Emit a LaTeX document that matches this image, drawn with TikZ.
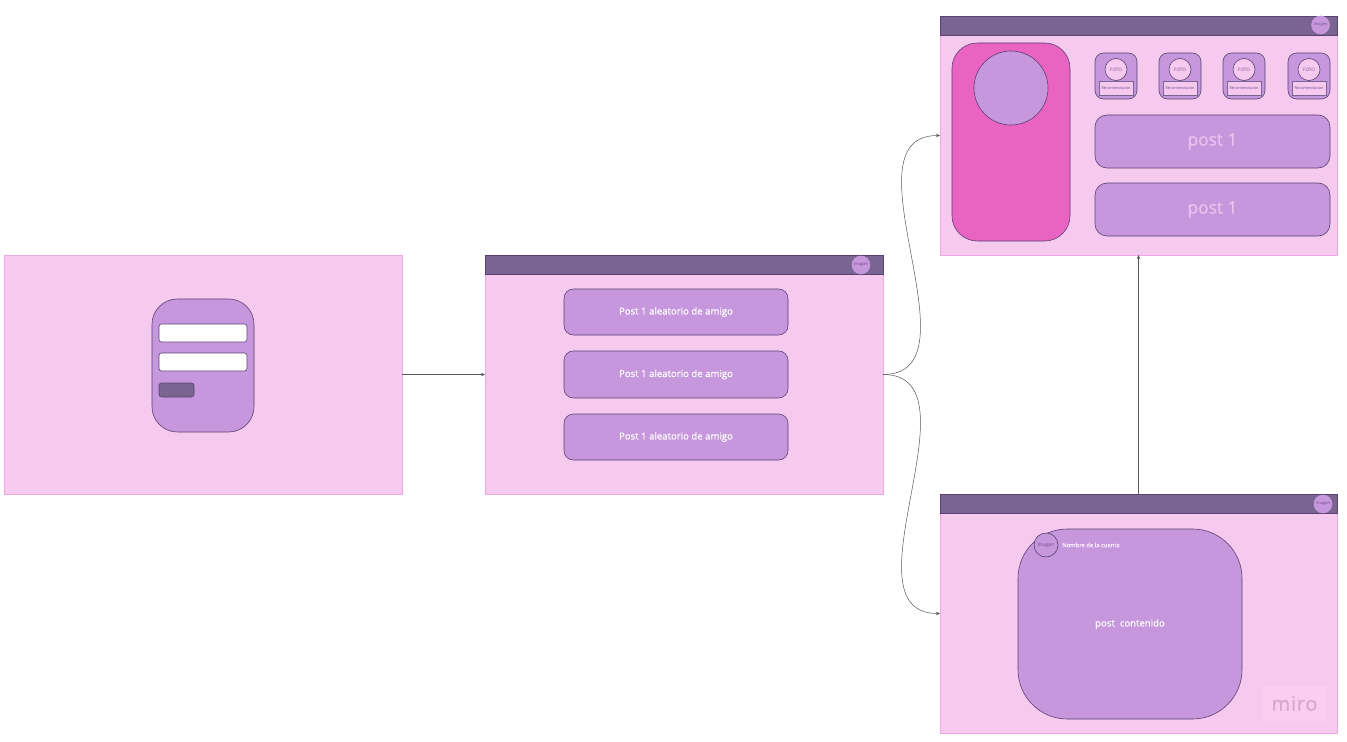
\documentclass[tikz,border=0pt]{standalone}
\usepackage{fontspec}
\setmainfont{Open Sans}
\newfontfamily\semi[FakeBold=0.35]{Open Sans}
\newfontfamily\semiheavy[FakeBold=0.8]{Open Sans}
\usetikzlibrary{arrows.meta}
\definecolor{framefill}{HTML}{F6C9EE}
\definecolor{frameline}{HTML}{F0A6E2}
\definecolor{headfill}{HTML}{7A6592}
\definecolor{darkline}{HTML}{5A4172}
\definecolor{cardfill}{HTML}{C697DC}
\definecolor{hotpink}{HTML}{E963C2}
\definecolor{softtext}{HTML}{EBC2EE}
\definecolor{minitext}{HTML}{6F4F88}
\definecolor{mirobox}{HTML}{F9CEF0}
\definecolor{mirotext}{HTML}{D5AACF}
\newcommand{\fs}[1]{\fontsize{#1}{#1}\selectfont}
\newcommand{\dn}[1]{\raisebox{-0.7pt}{#1}}
\newcommand{\bx}[7]{%
  \pgfmathsetmacro{\bxw}{(#4-#2)*0.75}%
  \pgfmathsetmacro{\bxh}{(#5-#3)*0.75}%
  \pgfmathsetmacro{\bxx}{(#2+#4)/2}%
  \pgfmathsetmacro{\bxy}{(#3+#5)/2}%
  \node[#6,minimum width=\bxw pt,minimum height=\bxh pt] (#1) at (\bxx,\bxy) {#7};}
\tikzset{
  base/.style={inner sep=0pt,outer sep=0pt,line width=0.45pt,draw=darkline},
  frame/.style={base,draw=frameline,fill=framefill,line width=0.6pt},
  header/.style={base,fill=headfill,line width=0.6pt},
  card/.style={base,fill=cardfill,rounded corners=#1},
  avatar/.style={base,circle,fill=cardfill,draw=cardfill,text=minitext,font=\fs{3}},
  field/.style={base,fill=white,rounded corners=2pt},
  button/.style={base,fill=headfill,rounded corners=2pt},
  postbig/.style={card=9pt,text=softtext,font=\fs{13}\semiheavy},
  postmid/.style={card=7pt,text=white,font=\fs{7.2}\semi},
  foto/.style={base,circle,fill=framefill,text=minitext,font=\fs{3.4}},
  reco/.style={base,fill=framefill,text=minitext,font=\fs{2.9},line width=0.7pt,draw=headfill},
  link/.style={draw=black!65,line width=0.38pt,-{Stealth[length=3pt,width=2.6pt]}},
}
\newcommand{\mini}[2]{%
  \pgfmathsetmacro{\ma}{#2}\pgfmathsetmacro{\mb}{#2+42}\pgfmathsetmacro{\mc}{#2+21}%
  \pgfmathsetmacro{\md}{#2+4}\pgfmathsetmacro{\me}{#2+38}%
  \edef\mL{\ma}\edef\mR{\mb}\edef\mC{\mc}\edef\mD{\md}\edef\mE{\me}%
  \bx{card#1}{\mL}{53}{\mR}{99}{card=6.5pt}{}
  \node[foto,minimum size=16.5pt] (foto#1) at (\mC,69.5) {FOTO};
  \bx{reco#1}{\mD}{81}{\mE}{95}{reco}{Recomendacion}
}
\begin{document}
\begin{tikzpicture}[x=0.75pt,y=-0.75pt]
\useasboundingbox[fill=white] (0,0) rectangle (1347,742);
% frame A: login
\bx{fa}{4}{255}{402}{494}{frame}{}
\bx{login}{152}{299}{254}{432}{card=19pt}{}
\bx{user}{159}{324}{247}{342}{field}{}
\bx{pass}{159}{353}{247}{371}{field}{}
\bx{send}{159}{383}{194}{397}{button}{}
% frame B: feed
\bx{fb}{485}{255}{883}{494}{frame}{}
\bx{hb}{485}{255}{883}{274}{header}{}
\node[avatar,minimum size=13.5pt] (ab) at (861,265) {Imagen};
\bx{p1}{564}{289}{788}{335}{postmid}{\dn{Post 1 aleatorio de amigo}}
\bx{p2}{564}{351}{788}{398}{postmid}{\dn{Post 1 aleatorio de amigo}}
\bx{p3}{564}{414}{788}{460}{postmid}{\dn{Post 1 aleatorio de amigo}}
% frame C: profile
\bx{fc}{940}{16}{1337}{255}{frame}{}
\bx{hc}{940}{16}{1337}{35}{header}{}
\node[avatar,minimum size=13.5pt] (ac) at (1320.5,25) {Imagen};
\bx{side}{952}{43}{1070}{241}{base,fill=hotpink,rounded corners=19pt}{}
\node[base,circle,fill=cardfill,minimum size=55.5pt] (photo) at (1011,88) {};
\mini{a}{1095}
\mini{b}{1159}
\mini{c}{1223}
\mini{d}{1288}
\bx{pc1}{1095}{115}{1330}{168}{postbig}{\dn{post 1}}
\bx{pc2}{1095}{183}{1330}{236}{postbig}{\dn{post 1}}
% frame D: post
\bx{fd}{940}{494}{1337}{733}{frame}{}
\bx{hd}{940}{494}{1337}{513}{header}{}
\node[avatar,minimum size=13.5pt] (ad) at (1323,504) {Imagen};
\bx{big}{1018}{529}{1242}{719}{card=37pt,text=white,font=\fs{7.2}\semi}{\dn{post\ \ contenido}}
\node[base,circle,fill=cardfill,minimum size=18pt,text=minitext,font=\fs{3.6}] (ai) at (1046,545) {Imagen};
\node[inner sep=0pt,anchor=west,text=white!70!framefill,font=\fs{4.4}\semiheavy] (acct) at (1062,545) {Nombre de la cuenta};
\bx{mb}{1262}{686}{1327}{721}{inner sep=0pt,fill=mirobox,text=mirotext,font=\fs{15}\semiheavy}{\addfontfeature{LetterSpace=4}miro}
% connectors
\draw[link] (fa.east) -- (fb.west);
\draw[link] (fb.east) .. controls +(100,0) and +(-100,0) .. (fc.west);
\draw[link] (fb.east) .. controls +(100,0) and +(-100,0) .. (fd.west);
\draw[link] (fd.north) -- (fc.south);
\end{tikzpicture}
\end{document}
